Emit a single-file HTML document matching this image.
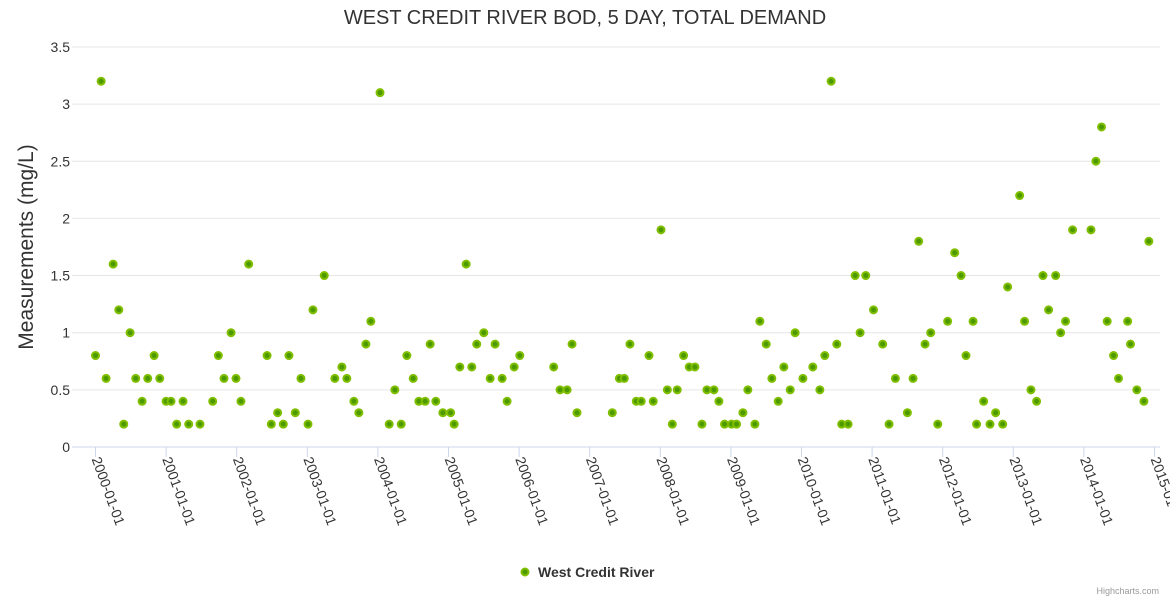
<!DOCTYPE html>
<html><head><meta charset="utf-8"><style>
body{margin:0;background:#fff;font-family:"Liberation Sans",sans-serif}
svg text{font-family:"Liberation Sans",sans-serif}
</style></head><body>
<svg id="chart" width="1170" height="600" xmlns="http://www.w3.org/2000/svg">
<text x="585" y="24" text-anchor="middle" font-size="20" fill="#333">WEST CREDIT RIVER BOD, 5 DAY, TOTAL DEMAND</text>
<text transform="translate(33,247) rotate(-90)" text-anchor="middle" font-size="21" fill="#333">Measurements (mg/L)</text>
<g id="grid"></g><g id="xaxis"></g><g id="points"></g>
<g>
<circle cx="525" cy="572" r="3.5" fill="#4c9900" stroke="#80bf00" stroke-width="2"/>
<text x="538" y="577" font-size="14" font-weight="bold" fill="#333">West Credit River</text>
</g>
<text x="1159" y="594" text-anchor="end" font-size="9" fill="#999">Highcharts.com</text>
</svg>
<script>
const yTicks=[0,0.5,1,1.5,2,2.5,3,3.5];
const yTickLabels=["0","0.5","1","1.5","2","2.5","3","3.5"];
const xTickLabels=["2000-01-01","2001-01-01","2002-01-01","2003-01-01","2004-01-01","2005-01-01","2006-01-01","2007-01-01","2008-01-01","2009-01-01","2010-01-01","2011-01-01","2012-01-01","2013-01-01","2014-01-01","2015-01-01"];
const dates=[0.00,0.08,0.15,0.25,0.33,0.40,0.49,0.57,0.66,0.74,0.83,0.91,1.00,1.07,1.15,1.24,1.32,1.48,1.66,1.74,1.82,1.92,1.99,2.06,2.17,2.43,2.49,2.58,2.66,2.74,2.83,2.91,3.01,3.08,3.24,3.39,3.49,3.56,3.66,3.73,3.83,3.90,4.03,4.16,4.24,4.33,4.41,4.50,4.58,4.67,4.74,4.82,4.92,5.03,5.08,5.16,5.25,5.33,5.40,5.50,5.59,5.66,5.76,5.83,5.93,6.01,6.49,6.58,6.68,6.75,6.82,7.32,7.42,7.49,7.57,7.66,7.73,7.84,7.90,8.01,8.10,8.17,8.24,8.33,8.41,8.49,8.59,8.66,8.76,8.83,8.91,9.01,9.08,9.17,9.24,9.34,9.41,9.50,9.58,9.67,9.75,9.84,9.91,10.02,10.16,10.26,10.33,10.42,10.50,10.57,10.66,10.76,10.83,10.91,11.02,11.15,11.24,11.33,11.50,11.58,11.66,11.75,11.83,11.93,12.07,12.17,12.26,12.33,12.43,12.48,12.58,12.67,12.75,12.85,12.92,13.09,13.16,13.25,13.33,13.42,13.50,13.60,13.67,13.74,13.84,14.10,14.17,14.25,14.33,14.42,14.49,14.62,14.66,14.75,14.85,14.92];
const values=[0.8,3.2,0.6,1.6,1.2,0.2,1.0,0.6,0.4,0.6,0.8,0.6,0.4,0.4,0.2,0.4,0.2,0.2,0.4,0.8,0.6,1.0,0.6,0.4,1.6,0.8,0.2,0.3,0.2,0.8,0.3,0.6,0.2,1.2,1.5,0.6,0.7,0.6,0.4,0.3,0.9,1.1,3.1,0.2,0.5,0.2,0.8,0.6,0.4,0.4,0.9,0.4,0.3,0.3,0.2,0.7,1.6,0.7,0.9,1.0,0.6,0.9,0.6,0.4,0.7,0.8,0.7,0.5,0.5,0.9,0.3,0.3,0.6,0.6,0.9,0.4,0.4,0.8,0.4,1.9,0.5,0.2,0.5,0.8,0.7,0.7,0.2,0.5,0.5,0.4,0.2,0.2,0.2,0.3,0.5,0.2,1.1,0.9,0.6,0.4,0.7,0.5,1.0,0.6,0.7,0.5,0.8,3.2,0.9,0.2,0.2,1.5,1.0,1.5,1.2,0.9,0.2,0.6,0.3,0.6,1.8,0.9,1.0,0.2,1.1,1.7,1.5,0.8,1.1,0.2,0.4,0.2,0.3,0.2,1.4,2.2,1.1,0.5,0.4,1.5,1.2,1.5,1.0,1.1,1.9,1.9,2.5,2.8,1.1,0.8,0.6,1.1,0.9,0.5,0.4,1.8];
const NS="http://www.w3.org/2000/svg";
const X0=95.5,PXY=70.6,Y0=447,PXV=114.3,XL=72,XR=1160;
const xs=d=>X0+d*PXY, ys=v=>Y0-v*PXV;
function mk(t,a,p){const e=document.createElementNS(NS,t);for(const k in a)e.setAttribute(k,a[k]);p.appendChild(e);return e;}
const grid=document.getElementById('grid');
yTicks.forEach((v,i)=>{
  const l=mk('line',{x1:XL,x2:XR,y1:ys(v),y2:ys(v),stroke:v===0?'#ccd6eb':'#e6e6e6','stroke-width':1},grid);
  
  
  const t=mk('text',{x:70,y:ys(v)+5,'text-anchor':'end','font-size':14,fill:'#333'},grid);
  t.textContent=yTickLabels[i];
  
  
});
const xa=document.getElementById('xaxis');
xTickLabels.forEach((s,i)=>{
  const x=xs(i);
  const l=mk('line',{x1:x,x2:x,y1:Y0,y2:Y0+10,stroke:'#ccd6eb'},xa);
  
  
  const t=mk('text',{transform:`translate(${x-4},${Y0+12}) rotate(70)`,'font-size':14,fill:'#333'},xa);
  t.textContent=s;
  
  
});
const pg=document.getElementById('points');
dates.forEach((d,i)=>{
  const c=mk('circle',{cx:xs(d),cy:ys(values[i]),r:3.5,fill:'#4c9900',stroke:'#80bf00','stroke-width':2},pg);
  
  
});
</script>
</body></html>
